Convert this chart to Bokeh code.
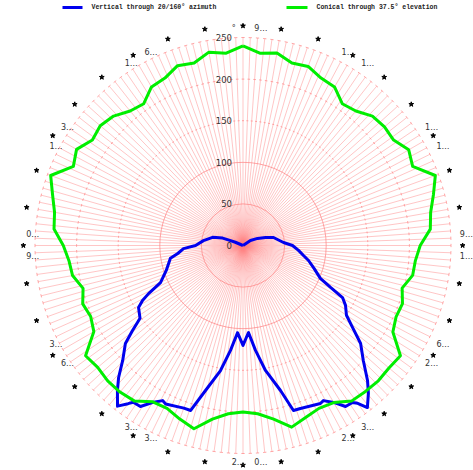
import numpy as np
from bokeh.plotting import figure
from bokeh.models import Range1d
from bokeh.core.properties import value
from bokeh.embed import file_html
from bokeh.resources import INLINE

# ---------------- data ----------------
series_names = ["Vertical through 20/160° azimuth", "Conical through 37.5° elevation"]
series_colors = ["#0000ee", "#00ee00"]

# vertical cut (blue): compass angle (deg, clockwise from top) and value
blue_angle = [0, 50, 56, 64, 70.4, 75.3, 85.8, 90, 95, 99.4, 102.9, 108, 113, 115.6,
              117.6, 120.3, 124, 126.8, 129.8, 133.7, 137.3, 139.7, 142.5, 144, 145.1,
              147.5, 150, 152.6, 153.9, 160.6, 163, 165.5, 169.8, 173.2, 176.4, 180,
              183.6, 186.8, 190.2, 194.5, 197.6, 200, 206, 207.4, 210, 212.5, 215, 216,
              218, 220.9, 223.3, 226.3, 230.2, 232.4, 233.9, 234.8, 239.3, 241.3, 243,
              245.8, 252, 260, 263, 267, 270, 277, 285, 290, 291, 293, 300, 360]
blue_r = [0, 0, 10.8, 19.4, 28.7, 37.9, 48.8, 59.5, 67, 73.7, 80.8, 90, 101, 116.7,
          135, 142.7, 150, 164.4, 184, 200, 220.7, 233, 245.6, 234.5, 230,
          229.4, 217.8, 210, 211.5, 207.7, 207.4, 180, 152.6, 127, 104.8, 120,
          105, 127, 152.7, 180, 208, 208, 212, 210, 218, 229.5, 230, 235,
          245, 230.5, 218, 200, 184, 167.6, 157, 151.5, 146, 137.7, 127.4,
          108.7, 97, 88.6, 79, 71.6, 57, 47.9, 37.9, 26, 18, 10, 0, 0]

# conical cut (green): every 5 degrees
green_angle = list(range(0, 360, 5))
green_r = [240, 232, 235, 227, 229, 222, 220, 208, 211, 220, 222, 221,
           230, 225, 246, 237, 229, 226, 213, 208, 207, 198, 204, 203,
           208, 231, 229, 230, 229, 228, 218, 216, 220, 226, 212, 203,
           200, 203, 212, 228, 222, 216, 217, 228, 230, 230, 228, 231,
           207, 202, 205, 199, 208, 210, 216, 228, 230, 237, 246, 225,
           231, 221, 224, 220, 211, 208, 220, 222, 230, 227, 236, 232]

radial_ticks = [0, 50, 100, 150, 200, 250]
radial_tick_labels = ["0", "50", "100", "150", "200", "250"]
marker_angles = list(range(0, 360, 10))
label_angles = list(range(0, 360, 30))
labels_cw = ["9…", "1…", "1…", "1…", "2…", "2…", "2…", "3…", "3…", "0…", "3…", "6…"]
labels_ccw = ["°", "1…", "1…", "9…", "6…", "3…", "0…", "3…", "6…", "9…", "1…", "1…"]
spoke_angles = list(range(0, 360, 2))

# ---------------- layout helpers ----------------
CX, CY, S = 242.5, 245.0, 0.832   # pixel of centre, pixels per unit
W, H = 473, 470


def px_x(px):
    return (px - CX) / S


def px_y(py):
    return (CY - py) / S


def polar(theta_deg, r):
    t = np.radians(np.asarray(theta_deg, dtype=float))
    r = np.asarray(r, dtype=float)
    return r * np.sin(t), r * np.cos(t)


p = figure(width=W, height=H,
           x_range=Range1d(px_x(0), px_x(W)),
           y_range=Range1d(px_y(H), px_y(0)),
           x_axis_type=None, y_axis_type=None,
           toolbar_location=None, output_backend="svg", min_border=0)
p.outline_line_color = None
p.background_fill_color = "white"
p.border_fill_color = "white"

rmax = radial_ticks[-1]

# spokes
sx, sy = polar(spoke_angles, np.full(len(spoke_angles), rmax))
p.segment(x0=np.zeros(len(sx)), y0=np.zeros(len(sy)), x1=sx, y1=sy,
          line_color="#ff8080", line_alpha=0.45, line_width=1)

# solid inner rings
p.circle(x=[0, 0], y=[0, 0], radius=radial_ticks[1:3], fill_color=None,
         line_color="#ff8080", line_alpha=0.7, line_width=1)

# dashed outer rings: short arcs centred on each spoke
arc_r, arc_s, arc_e = [], [], []
for rr in radial_ticks[3:]:
    for a in spoke_angles:
        m = 90.0 - a
        arc_r.append(rr)
        arc_s.append(np.radians(m - 0.45))
        arc_e.append(np.radians(m + 0.45))
p.arc(x=np.zeros(len(arc_r)), y=np.zeros(len(arc_r)), radius=arc_r,
      start_angle=arc_s, end_angle=arc_e, line_color="#ff8080",
      line_alpha=0.7, line_width=1)

# series
bx, by = polar(blue_angle, blue_r)
p.line(bx, by, line_color=series_colors[0], line_width=3, line_join="round")
ga = green_angle + [green_angle[0] + 360]
gr = green_r + [green_r[0]]
gx, gy = polar(ga, gr)
p.line(gx, gy, line_color=series_colors[1], line_width=3, line_join="round")

# radial tick labels
p.text(x=[px_x(CX - 11)] * len(radial_ticks), y=radial_ticks, text=radial_tick_labels,
       text_font=value("DejaVu Sans"), text_font_size="8.5px", text_color="#333333",
       text_align="right", text_baseline="middle")

# star markers around the circle
mx, my = polar(marker_angles, np.full(len(marker_angles), 264.0))
p.scatter(mx, my, marker="star", size=5, color="black")

# angle labels
lr = 261.0
cwx, cwy = polar(np.array(label_angles) + 3.0, np.full(len(label_angles), lr))
ccx, ccy = polar(np.array(label_angles) - 3.0, np.full(len(label_angles), lr))
p.text(x=cwx, y=cwy, text=labels_cw, text_font=value("DejaVu Sans"),
       text_font_size="8px", text_color="#333333", text_align="left",
       text_baseline="middle")
p.text(x=ccx, y=ccy, text=labels_ccw, text_font=value("DejaVu Sans"),
       text_font_size="8px", text_color="#333333", text_align="left",
       text_baseline="middle")

# legend
leg_y = px_y(7)
p.line([px_x(62), px_x(82)], [leg_y, leg_y], line_color=series_colors[0], line_width=3)
p.line([px_x(286), px_x(307)], [leg_y, leg_y], line_color=series_colors[1], line_width=3)
p.text(x=[px_x(91), px_x(316)], y=[leg_y, leg_y], text=series_names,
       text_font=value("Liberation Mono"), text_font_size="6.5px",
       text_font_style="bold", text_color="#222222", text_align="left",
       text_baseline="middle")

open("out.html", "w").write(file_html(p, INLINE))
